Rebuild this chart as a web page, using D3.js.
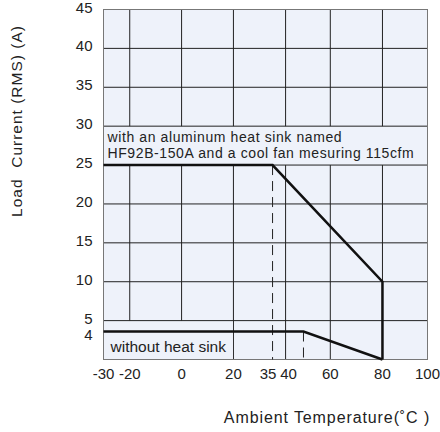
<!DOCTYPE html>
<html>
<head>
<meta charset="utf-8">
<script src="https://cdn.jsdelivr.net/npm/d3@7"></script>
<style>
  body { margin: 0; background: #fff; }
  text { font-family: "Liberation Sans", Arial, sans-serif; fill: #222; }
</style>
</head>
<body>
<div id="chart"></div>
<script>
// axis breakpoints (the printed axis is not evenly spaced)
var xBreaks = [-30, -20, 0, 20, 40, 60, 80, 100];
var xBreakFrac = [0, 0.081, 0.241, 0.401, 0.562, 0.700, 0.861, 1];
var xTicks = [-30, -20, 0, 20, 35, 40, 60, 80, 100];
var xGrid = [-20, 0, 20, 40, 60, 80];
var yTicks = [4, 5, 10, 15, 20, 25, 30, 35, 40, 45];
var yGrid = [5, 10, 15, 20, 25, 30, 35, 40];

// derating curves
var withSinkTemp = [-30, 35, 80, 80];
var withSinkLoad = [25, 25, 10, 0];
var noSinkTemp = [-30, 48, 80];
var noSinkLoad = [3.6, 3.6, 0];
var dashTemp = [35, 48];
var dashLoad = [25, 3.6];

var sinkNote = ["with an aluminum heat sink named", "HF92B-150A and a cool fan mesuring 115cfm"];
var noSinkNote = "without heat sink";

var W = 440, H = 432;
var m = {left: 103.5, right: 12.5, top: 9.5, bottom: 72.5};
var pw = W - m.left - m.right, ph = H - m.top - m.bottom;

var x = d3.scaleLinear()
	.domain(xBreaks)
	.range(xBreakFrac.map(function(f){ return f * pw; }));
var y = d3.scaleLinear().domain([0, 45]).range([ph, 0]);

var svg = d3.select('#chart').append('svg')
	.attr('width', W)
	.attr('height', H);
var g = svg.append('g').attr('transform', 'translate(' + m.left + ',' + m.top + ')');

g.append('rect')
 .attr('width', pw)
 .attr('height', ph)
 .attr('fill', '#eef2fa');

g.selectAll('.vgrid').data(xGrid).enter().append('line')
 .attr('x1', function(d){ return x(d); })
 .attr('x2', function(d){ return x(d); })
 .attr('y1', 0).attr('y2', ph)
 .attr('stroke', '#222').attr('stroke-width', 1);

// note boxes hide the grid behind them
g.append('rect')
 .attr('x', 0.5).attr('y', y(30))
 .attr('width', pw - 1).attr('height', y(25) - y(30))
 .attr('fill', '#eef2fa');
g.append('rect')
 .attr('x', 0.5).attr('y', y(5))
 .attr('width', x(20) - 1).attr('height', ph - y(5))
 .attr('fill', '#eef2fa');

g.selectAll('.hgrid').data(yGrid).enter().append('line')
 .attr('x1', 0).attr('x2', pw)
 .attr('y1', function(d){ return y(d); })
 .attr('y2', function(d){ return y(d); })
 .attr('stroke', '#222').attr('stroke-width', 1);

g.append('rect')
 .attr('width', pw)
 .attr('height', ph)
 .attr('fill', 'none')
 .attr('stroke', '#777').attr('stroke-width', 1);

g.selectAll('.dash').data(dashTemp).enter().append('line')
 .attr('x1', function(d){ return x(d); })
 .attr('x2', function(d){ return x(d); })
 .attr('y1', function(d, i){ return y(dashLoad[i]); })
 .attr('y2', ph)
 .attr('stroke', '#222').attr('stroke-width', 1)
 .attr('stroke-dasharray', '10,6');

var line = d3.line()
	.x(function(d){ return x(d[0]); })
	.y(function(d){ return y(d[1]); });

g.append('path')
 .attr('d', line(d3.zip(withSinkTemp, withSinkLoad)))
 .attr('fill', 'none').attr('stroke', '#111').attr('stroke-width', 2.5);
g.append('path')
 .attr('d', line(d3.zip(noSinkTemp, noSinkLoad)))
 .attr('fill', 'none').attr('stroke', '#111').attr('stroke-width', 2.5);

g.append('text')
 .attr('x', 4).attr('y', y(30))
 .style('font-size', '14px')
 .style('letter-spacing', '0.6px')
 .selectAll('tspan').data(sinkNote).enter().append('tspan')
 .attr('x', 4)
 .attr('dy', function(d, i){ return i ? '1.1em' : '1.16em'; })
 .text(function(d){ return d; });

g.append('text')
 .attr('x', 7).attr('y', y(0) - 8)
 .style('font-size', '15.5px')
 .text(noSinkNote);

// tick labels (35 and 40 are nudged apart, as printed)
g.selectAll('.xt').data(xTicks).enter().append('text')
 .attr('x', function(d){ return x(d); })
 .attr('dx', function(d){ return d === 35 ? -4.5 : d === 40 ? 3 : 0; })
 .attr('y', ph + 19)
 .attr('text-anchor', 'middle')
 .style('font-size', '15px')
 .text(function(d){ return d; });

g.selectAll('.yt').data(yTicks).enter().append('text')
 .attr('x', -11)
 .attr('y', function(d){ return y(d); })
 .attr('dy', function(d){ return d === 4 ? '0.8em' : '0.2em'; })
 .attr('text-anchor', 'end')
 .style('font-size', '15px')
 .text(function(d){ return d; });

svg.append('text')
 .attr('transform', 'translate(22,121) rotate(-90)')
 .attr('text-anchor', 'middle')
 .style('font-size', '15.5px')
 .style('letter-spacing', '1px')
 .style('white-space', 'pre')
 .text('Load  Current (RMS) (A)');

svg.append('text')
 .attr('x', 327).attr('y', 423)
 .attr('text-anchor', 'middle')
 .style('font-size', '16px')
 .style('letter-spacing', '0.9px')
 .text('Ambient Temperature(\u02DAC )');
</script>
</body>
</html>
